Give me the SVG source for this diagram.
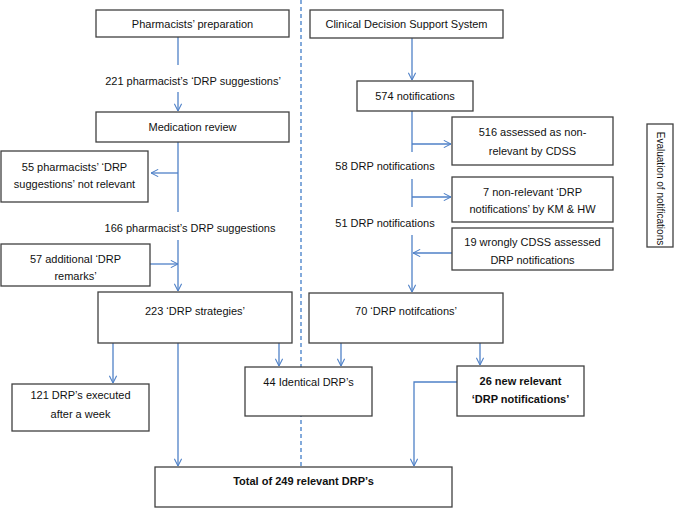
<svg xmlns="http://www.w3.org/2000/svg" width="685" height="508" viewBox="0 0 685 508">
<defs>
<marker id="ah" viewBox="0 0 10 10" refX="10" refY="5" markerWidth="8" markerHeight="8" markerUnits="userSpaceOnUse" orient="auto">
<path d="M1,0.5 L10,5 L1,9.5" fill="none" stroke="#4f81c7" stroke-width="1.3"/>
</marker>
<style>
.box{fill:#fff;stroke:#404040;stroke-width:1.3}
.t{font-family:"Liberation Sans",Arial,sans-serif;font-size:11px;fill:#111;text-anchor:middle}
.b{font-weight:bold}
.c{fill:none;stroke:#4f81c7;stroke-width:1.3}
.ca{fill:none;stroke:#4f81c7;stroke-width:1.3;marker-end:url(#ah)}
.d{fill:none;stroke:#5b8fd0;stroke-width:1.5;stroke-dasharray:4,3}
</style>
</defs>
<rect width="685" height="508" fill="#fff"/>
<line class="d" x1="301" y1="0" x2="301" y2="466"/>
<g id="connectors">
<line class="c" x1="178" y1="37" x2="178" y2="65"/>
<line class="ca" x1="178" y1="92" x2="178" y2="111"/>
<line class="c" x1="178" y1="142" x2="178" y2="212"/>
<line class="ca" x1="178" y1="173" x2="151" y2="173"/>
<line class="ca" x1="178" y1="240" x2="178" y2="291"/>
<line class="ca" x1="150" y1="264" x2="178" y2="264"/>
<line class="ca" x1="113" y1="343" x2="113" y2="383"/>
<line class="ca" x1="178" y1="343" x2="178" y2="466"/>
<line class="ca" x1="279" y1="343" x2="279" y2="366"/>
<line class="ca" x1="412" y1="38" x2="412" y2="80"/>
<line class="c" x1="412" y1="111" x2="412" y2="152"/>
<line class="ca" x1="412" y1="144" x2="451" y2="144"/>
<line class="c" x1="412" y1="179" x2="412" y2="207"/>
<line class="ca" x1="412" y1="197" x2="451" y2="197"/>
<line class="ca" x1="412" y1="235" x2="412" y2="292"/>
<line class="ca" x1="452" y1="253" x2="413" y2="253"/>
<line class="ca" x1="341" y1="343" x2="341" y2="366"/>
<line class="ca" x1="480" y1="343" x2="480" y2="365"/>
<polyline class="ca" points="457,382 414,382 414,466"/>
</g>
<g id="n1"><rect class="box" x="96" y="10" width="193" height="27"/><text class="t" x="192.5" y="27.5">Pharmacists’ preparation</text></g>
<g id="l1"><text class="t" x="193" y="85">221 pharmacist’s ‘DRP suggestions’</text></g>
<g id="n2"><rect class="box" x="96" y="112" width="193" height="30"/><text class="t" x="192.5" y="131">Medication review</text></g>
<g id="n3"><rect class="box" x="1" y="151" width="147" height="51"/><text class="t" x="74.5" y="171">55 pharmacists’ ‘DRP</text><text class="t" x="74.5" y="188">suggestions’ not relevant</text></g>
<g id="l2"><text class="t" x="190" y="232">166 pharmacist’s DRP suggestions</text></g>
<g id="n4"><rect class="box" x="1" y="244" width="149" height="42"/><text class="t" x="75.5" y="263">57 additional ‘DRP</text><text class="t" x="75.5" y="280">remarks’</text></g>
<g id="n5"><rect class="box" x="98" y="292" width="194" height="51"/><text class="t" x="195" y="315">223 ‘DRP strategies’</text></g>
<g id="n6"><rect class="box" x="12" y="384" width="137" height="47"/><text class="t" x="80.5" y="399">121 DRP’s executed</text><text class="t" x="80.5" y="418">after a week</text></g>
<g id="n7"><rect class="box" x="245" y="367" width="127" height="49"/><text class="t" x="308.5" y="386">44 Identical DRP’s</text></g>
<g id="n8"><rect class="box" x="155" y="467" width="297" height="40"/><text class="t b" x="303.5" y="485">Total of 249 relevant DRP’s</text></g>
<g id="n9"><rect class="box" x="310" y="10" width="193" height="28"/><text class="t" x="406.5" y="28">Clinical Decision Support System</text></g>
<g id="n10"><rect class="box" x="357" y="81" width="116" height="30"/><text class="t" x="415" y="100">574 notifications</text></g>
<g id="n11"><rect class="box" x="452" y="117" width="161" height="48"/><text class="t" x="532.5" y="136">516 assessed as non-</text><text class="t" x="532.5" y="155">relevant by CDSS</text></g>
<g id="l3"><text class="t" x="385" y="170">58 DRP notifications</text></g>
<g id="n12"><rect class="box" x="452" y="177" width="161" height="45"/><text class="t" x="532.5" y="196">7 non-relevant ‘DRP</text><text class="t" x="532.5" y="213">notifications’ by KM &amp; HW</text></g>
<g id="l4"><text class="t" x="385" y="227">51 DRP notifications</text></g>
<g id="n13"><rect class="box" x="452" y="228" width="161" height="42"/><text class="t" x="532.5" y="246">19 wrongly CDSS assessed</text><text class="t" x="532.5" y="264">DRP notifications</text></g>
<g id="n14"><rect class="box" x="309" y="293" width="194" height="50"/><text class="t" x="406" y="315">70 ‘DRP notifcations’</text></g>
<g id="n15"><rect class="box" x="457" y="366" width="127" height="50"/><text class="t b" x="520.5" y="385">26 new relevant</text><text class="t b" x="520.5" y="403">‘DRP notifications’</text></g>
<g id="n16"><rect class="box" x="647" y="124" width="26" height="123"/><text class="t" style="font-size:10px" transform="translate(656.5,188.5) rotate(90)">Evaluation of notifications</text></g>
</svg>
